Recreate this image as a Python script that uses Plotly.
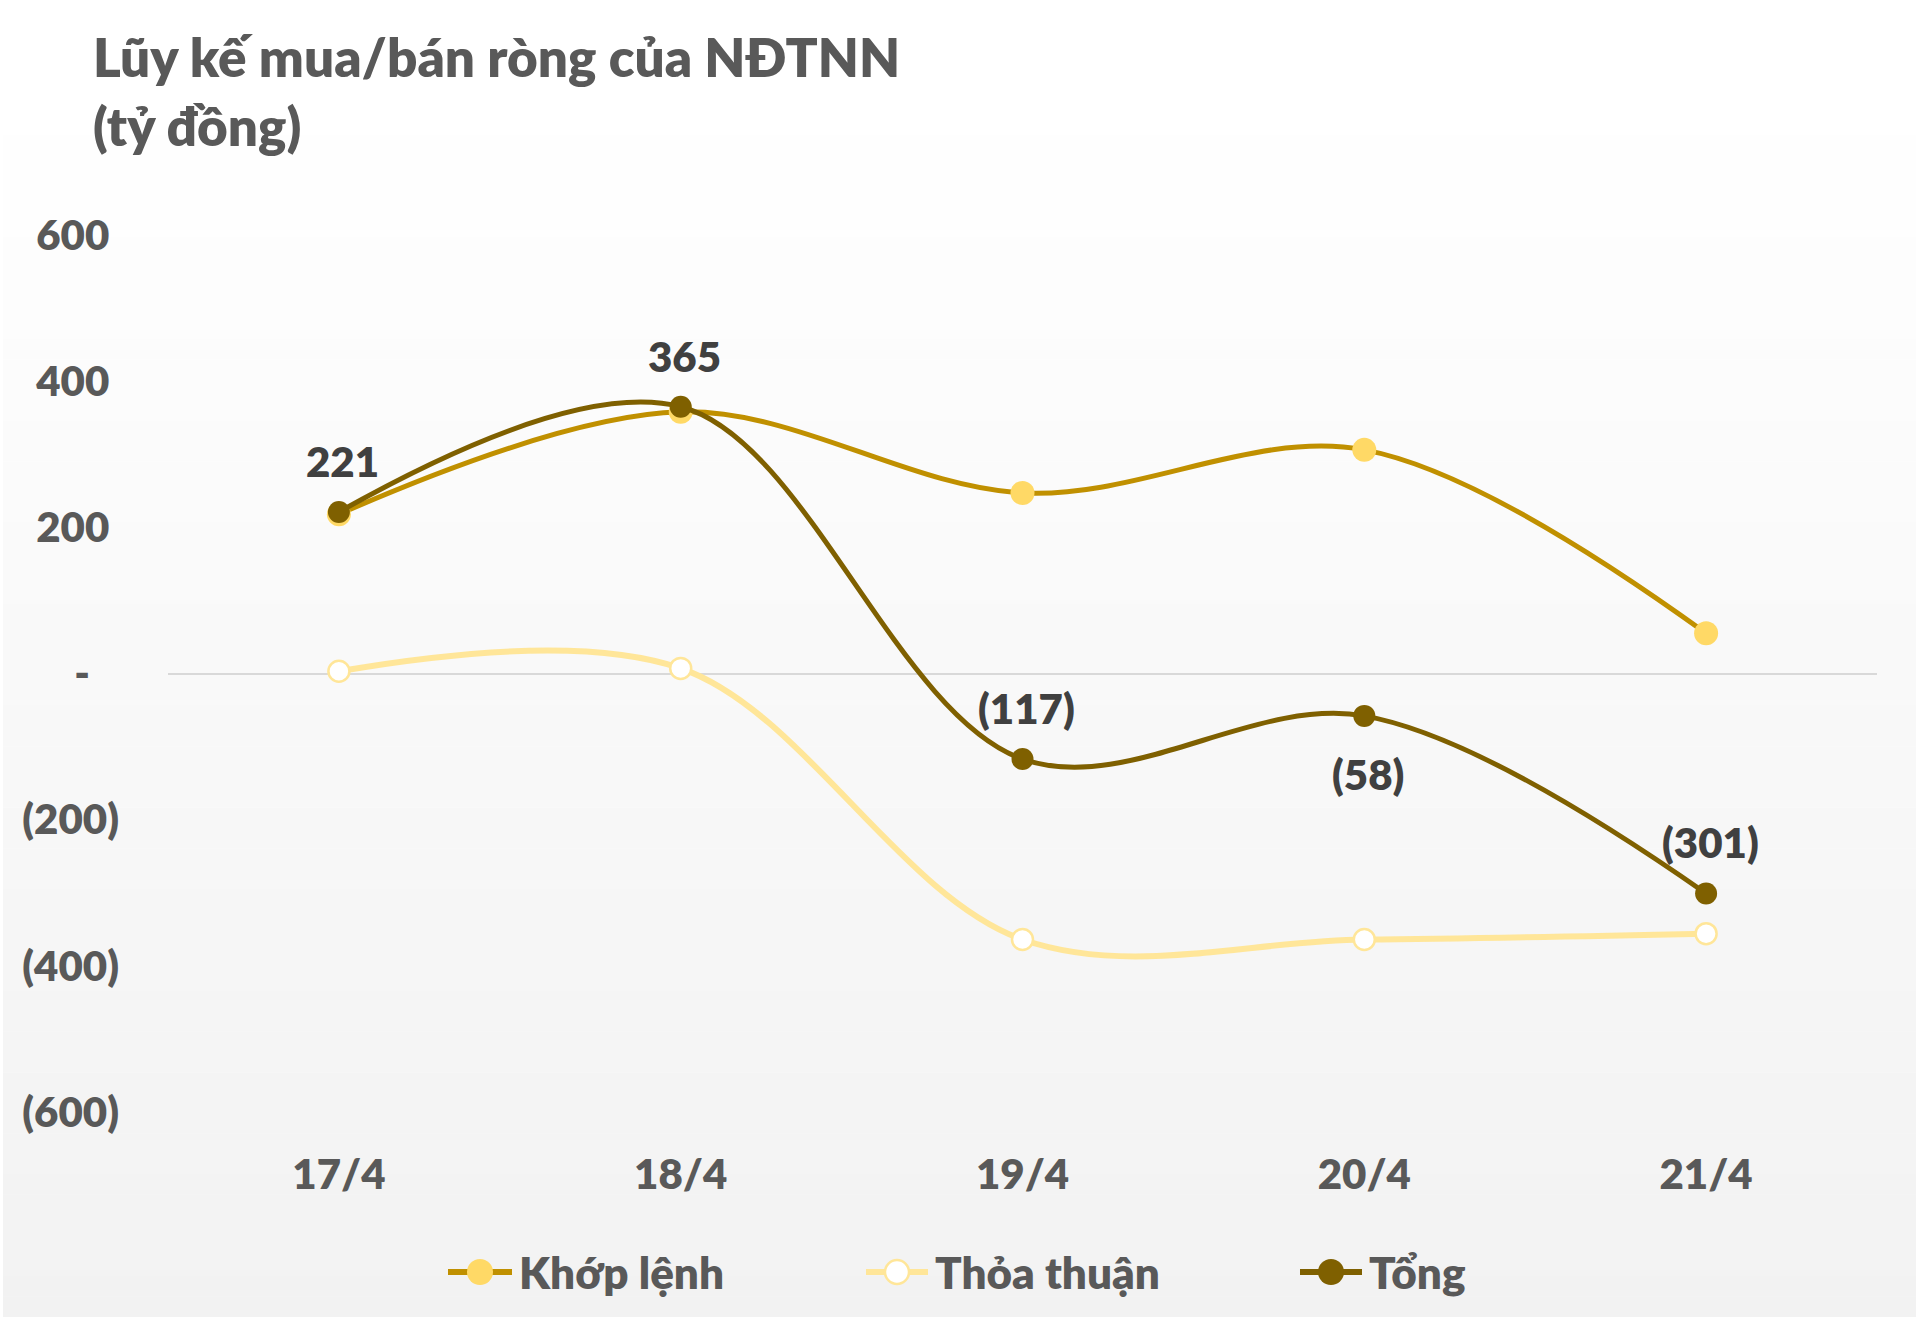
import plotly.graph_objects as go

# ---- data ----
dates = ["17/4", "18/4", "19/4", "20/4", "21/4"]
khop_lenh = [218, 358, 247, 306, 55]
thoa_thuan = [3, 7, -364, -364, -356]
tong = [221, 365, -117, -58, -301]
tong_label_pos = ["above", "above", "above", "below", "above"]
series_names = ["Khớp lệnh", "Thỏa thuận", "Tổng"]

y_tickvals = [-600, -400, -200, 0, 200, 400, 600]
y_ticktext = ["(600)", "(400)", "(200)", "-\u00a0\u00a0\u00a0", "200\u00a0", "400\u00a0", "600\u00a0"]

W, H = 1920, 1322
L, R, T, B = 168, 1877, 235, 1112

def px_x(px):
    return (px - L) / (R - L)

def px_y(py):
    return (B - py) / (B - T)

FONT = "Lato, 'Open Sans', sans-serif"
WEIGHT = 800

styles = [
    dict(line="#C09000", lw=5, mfill="#FFD966", msize=24, mline="#FFD966", mlw=0),
    dict(line="#FFE699", lw=6, mfill="#FFFFFF", msize=21, mline="#FFE699", mlw=2.5),
    dict(line="#7F6000", lw=5, mfill="#7F6000", msize=22, mline="#7F6000", mlw=0),
]

fig = go.Figure()
for name, vals, st in zip(series_names, [khop_lenh, thoa_thuan, tong], styles):
    fig.add_trace(go.Scatter(
        x=dates, y=vals, name=name, mode="lines+markers",
        line=dict(color=st["line"], width=st["lw"], shape="spline", smoothing=1.0),
        marker=dict(color=st["mfill"], size=st["msize"],
                    line=dict(width=st["mlw"], color=st["mline"])),
        showlegend=False,
    ))

def fmt(v):
    return f"({abs(v)})" if v < 0 else f"{v}"

annotations = []
for d, v, pos in zip(dates, tong, tong_label_pos):
    annotations.append(dict(
        x=d, y=v, xref="x", yref="y", text=fmt(v), showarrow=False,
        xshift=4, yshift=51 if pos == "above" else -58,
        font=dict(family=FONT, size=42, color="#404040", weight=WEIGHT),
    ))

# title
annotations.append(dict(
    x=px_x(91), y=px_y(23), xref="paper", yref="paper",
    xanchor="left", yanchor="top", align="left", showarrow=False,
    text="Lũy kế mua/bán ròng của NĐTNN<br>(tỷ đồng)",
    font=dict(family=FONT, size=53, color="#595959", weight=WEIGHT),
))

shapes = []
# background gradient (card)
top_px, bot_px = 95, 1317
n = 60
shapes.append(dict(type="rect", xref="paper", yref="paper", layer="below",
                   x0=px_x(3), x1=px_x(1916), y0=px_y(top_px), y1=px_y(0),
                   fillcolor="#FFFFFF", line=dict(width=0)))
for i in range(n):
    y0p = top_px + (bot_px - top_px) * i / n
    y1p = top_px + (bot_px - top_px) * (i + 1) / n
    t = (i + 0.5) / n
    c = round(255 - (255 - 242) * t)
    shapes.append(dict(type="rect", xref="paper", yref="paper", layer="below",
                       x0=px_x(3), x1=px_x(1916), y0=px_y(y1p), y1=px_y(y0p) + 0.0005,
                       fillcolor=f"rgb({c},{c},{c})", line=dict(width=0)))

# custom legend (line + marker + label)
legend_y = 1272
legend_items = [(448, 512, 517), (866, 928, 933), (1300, 1362, 1367)]
for (lx0, lx1, tx), name, st in zip(legend_items, series_names, styles):
    shapes.append(dict(type="line", xref="paper", yref="paper",
                       x0=px_x(lx0), x1=px_x(lx1), y0=px_y(legend_y), y1=px_y(legend_y),
                       line=dict(color=st["line"], width=6)))
    cx = (lx0 + lx1) / 2
    r = 13 if st["mlw"] == 0 else 12
    shapes.append(dict(type="circle", xref="paper", yref="paper",
                       x0=px_x(cx - r), x1=px_x(cx + r), y0=px_y(legend_y + r), y1=px_y(legend_y - r),
                       fillcolor=st["mfill"],
                       line=dict(color=st["mline"], width=st["mlw"] if st["mlw"] else 0)))
    annotations.append(dict(
        x=px_x(tx), y=px_y(legend_y), xref="paper", yref="paper",
        xanchor="left", yanchor="middle", showarrow=False, text=name,
        font=dict(family=FONT, size=44, color="#595959", weight=WEIGHT),
    ))

fig.update_layout(
    width=W, height=H,
    margin=dict(l=L, r=W - R, t=T, b=H - B, pad=0),
    paper_bgcolor="#FFFFFF",
    plot_bgcolor="rgba(0,0,0,0)",
    showlegend=False,
    annotations=annotations,
    shapes=shapes,
    xaxis=dict(
        range=[-0.5, 4.5], showgrid=False, zeroline=False, showline=False,
        ticks="", tickfont=dict(family=FONT, size=42, color="#595959", weight=WEIGHT),
        ticklabelstandoff=34, automargin=False, fixedrange=True,
    ),
    yaxis=dict(
        range=[-600, 600], tickvals=y_tickvals, ticktext=y_ticktext,
        showgrid=False, zeroline=True, zerolinecolor="#D9D9D9", zerolinewidth=2,
        showline=False, ticks="",
        tickfont=dict(family=FONT, size=42, color="#595959", weight=WEIGHT),
        ticklabelstandoff=48, automargin=False, fixedrange=True,
    ),
)

fig.write_html("out.html")
